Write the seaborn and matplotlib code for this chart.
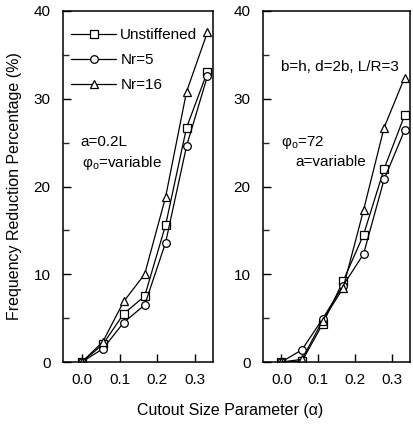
import numpy as np
import pandas as pd
import matplotlib
matplotlib.use("Agg")
import matplotlib.pyplot as plt
import seaborn as sns
from matplotlib.ticker import MultipleLocator

sns.set_style("ticks")
plt.rcParams['font.family'] = ['Liberation Sans', 'DejaVu Sans']
plt.rcParams['mathtext.fontset'] = 'custom'
plt.rcParams['mathtext.rm'] = 'Liberation Sans'
plt.rcParams['mathtext.it'] = 'Liberation Sans:italic'
plt.rcParams['text.color'] = 'black'
plt.rcParams['axes.labelcolor'] = 'black'

alpha = [0.0, 0.0556, 0.1111, 0.1667, 0.2222, 0.2778, 0.3333]
series = ["Unstiffened", "Nr=5", "Nr=16"]
markers = ["s", "o", "^"]

left_unstiff = [0.0, 2.0, 5.5, 7.5, 15.6, 26.7, 33.1]
left_nr5 = [0.0, 1.5, 4.5, 6.5, 13.6, 24.6, 32.6]
left_nr16 = [0.0, 2.3, 6.9, 10.0, 18.8, 30.8, 37.6]

right_unstiff = [0.0, 0.1, 4.3, 9.2, 14.5, 22.0, 28.1]
right_nr5 = [0.0, 1.4, 4.9, 8.7, 12.3, 20.8, 26.4]
right_nr16 = [0.0, 0.3, 4.7, 8.4, 17.3, 26.7, 32.4]

yticks = [0, 10, 20, 30, 40]
xticks = [0.0, 0.1, 0.2, 0.3]
xticklabels = ["0.0", "0.1", "0.2", "0.3"]

fig = plt.figure(figsize=(4.13, 4.25), dpi=100)
axL = fig.add_axes([63/413, (425-362)/425, 150/413, 351/425])
axR = fig.add_axes([263/413, (425-362)/425, 147/413, 351/425])

def draw(ax, vals):
    for name, m, v in zip(series, markers, vals):
        df = pd.DataFrame({"alpha": alpha, "val": v})
        sns.lineplot(data=df, x="alpha", y="val", ax=ax, color="black",
                     marker=m, markersize=5.5, markerfacecolor="white",
                     markeredgecolor="black", markeredgewidth=0.9,
                     linewidth=0.9, label=name, legend=False)
    ax.set_xlim(-0.05, 0.348)
    ax.set_ylim(0, 40)
    ax.set_xticks(xticks)
    ax.set_xticklabels(xticklabels)
    ax.set_yticks(yticks)
    ax.yaxis.set_minor_locator(MultipleLocator(5))
    ax.tick_params(axis="both", which="major", direction="in", length=6,
                   width=1.0, labelsize=11, colors="black")
    ax.tick_params(axis="y", which="minor", direction="in", length=4, width=1.0)
    ax.tick_params(axis="y", which="major", pad=9)
    ax.tick_params(axis="x", which="major", pad=8)
    ax.set_xlabel("")
    ax.set_ylabel("")
    for s in ax.spines.values():
        s.set_visible(True)
        s.set_linewidth(1.1)
        s.set_color("black")

draw(axL, [left_unstiff, left_nr5, left_nr16])
draw(axR, [right_unstiff, right_nr5, right_nr16])

axL.legend(loc="upper left", bbox_to_anchor=(0.0, 0.975), frameon=False,
           fontsize=11, handlelength=2.9, handletextpad=0.3,
           borderaxespad=0.25, labelspacing=0.72, borderpad=0.3)

axL.text(0.113, 0.627, "a=0.2L", transform=axL.transAxes, fontsize=11,
         va="center", ha="left")
axL.text(0.125, 0.567, "φ$_{\\rm o}$=variable", transform=axL.transAxes,
         fontsize=11, va="center", ha="left")

axR.text(0.12, 0.84, "b=h, d=2b, L/R=3", transform=axR.transAxes,
         fontsize=11, va="center", ha="left")
axR.text(0.125, 0.624, "φ$_{\\rm o}$=72", transform=axR.transAxes,
         fontsize=11, va="center", ha="left")
axR.text(0.218, 0.57, "a=variable", transform=axR.transAxes,
         fontsize=11, va="center", ha="left")

fig.text(15/413, 1 - 186/425, "Frequency Reduction Percentage (%)",
         rotation=90, ha="center", va="center", fontsize=11.5)
fig.text(230/413, 1 - 410/425, "Cutout Size Parameter (α)",
         ha="center", va="center", fontsize=11.5)

fig.savefig("out.png", dpi=100)
